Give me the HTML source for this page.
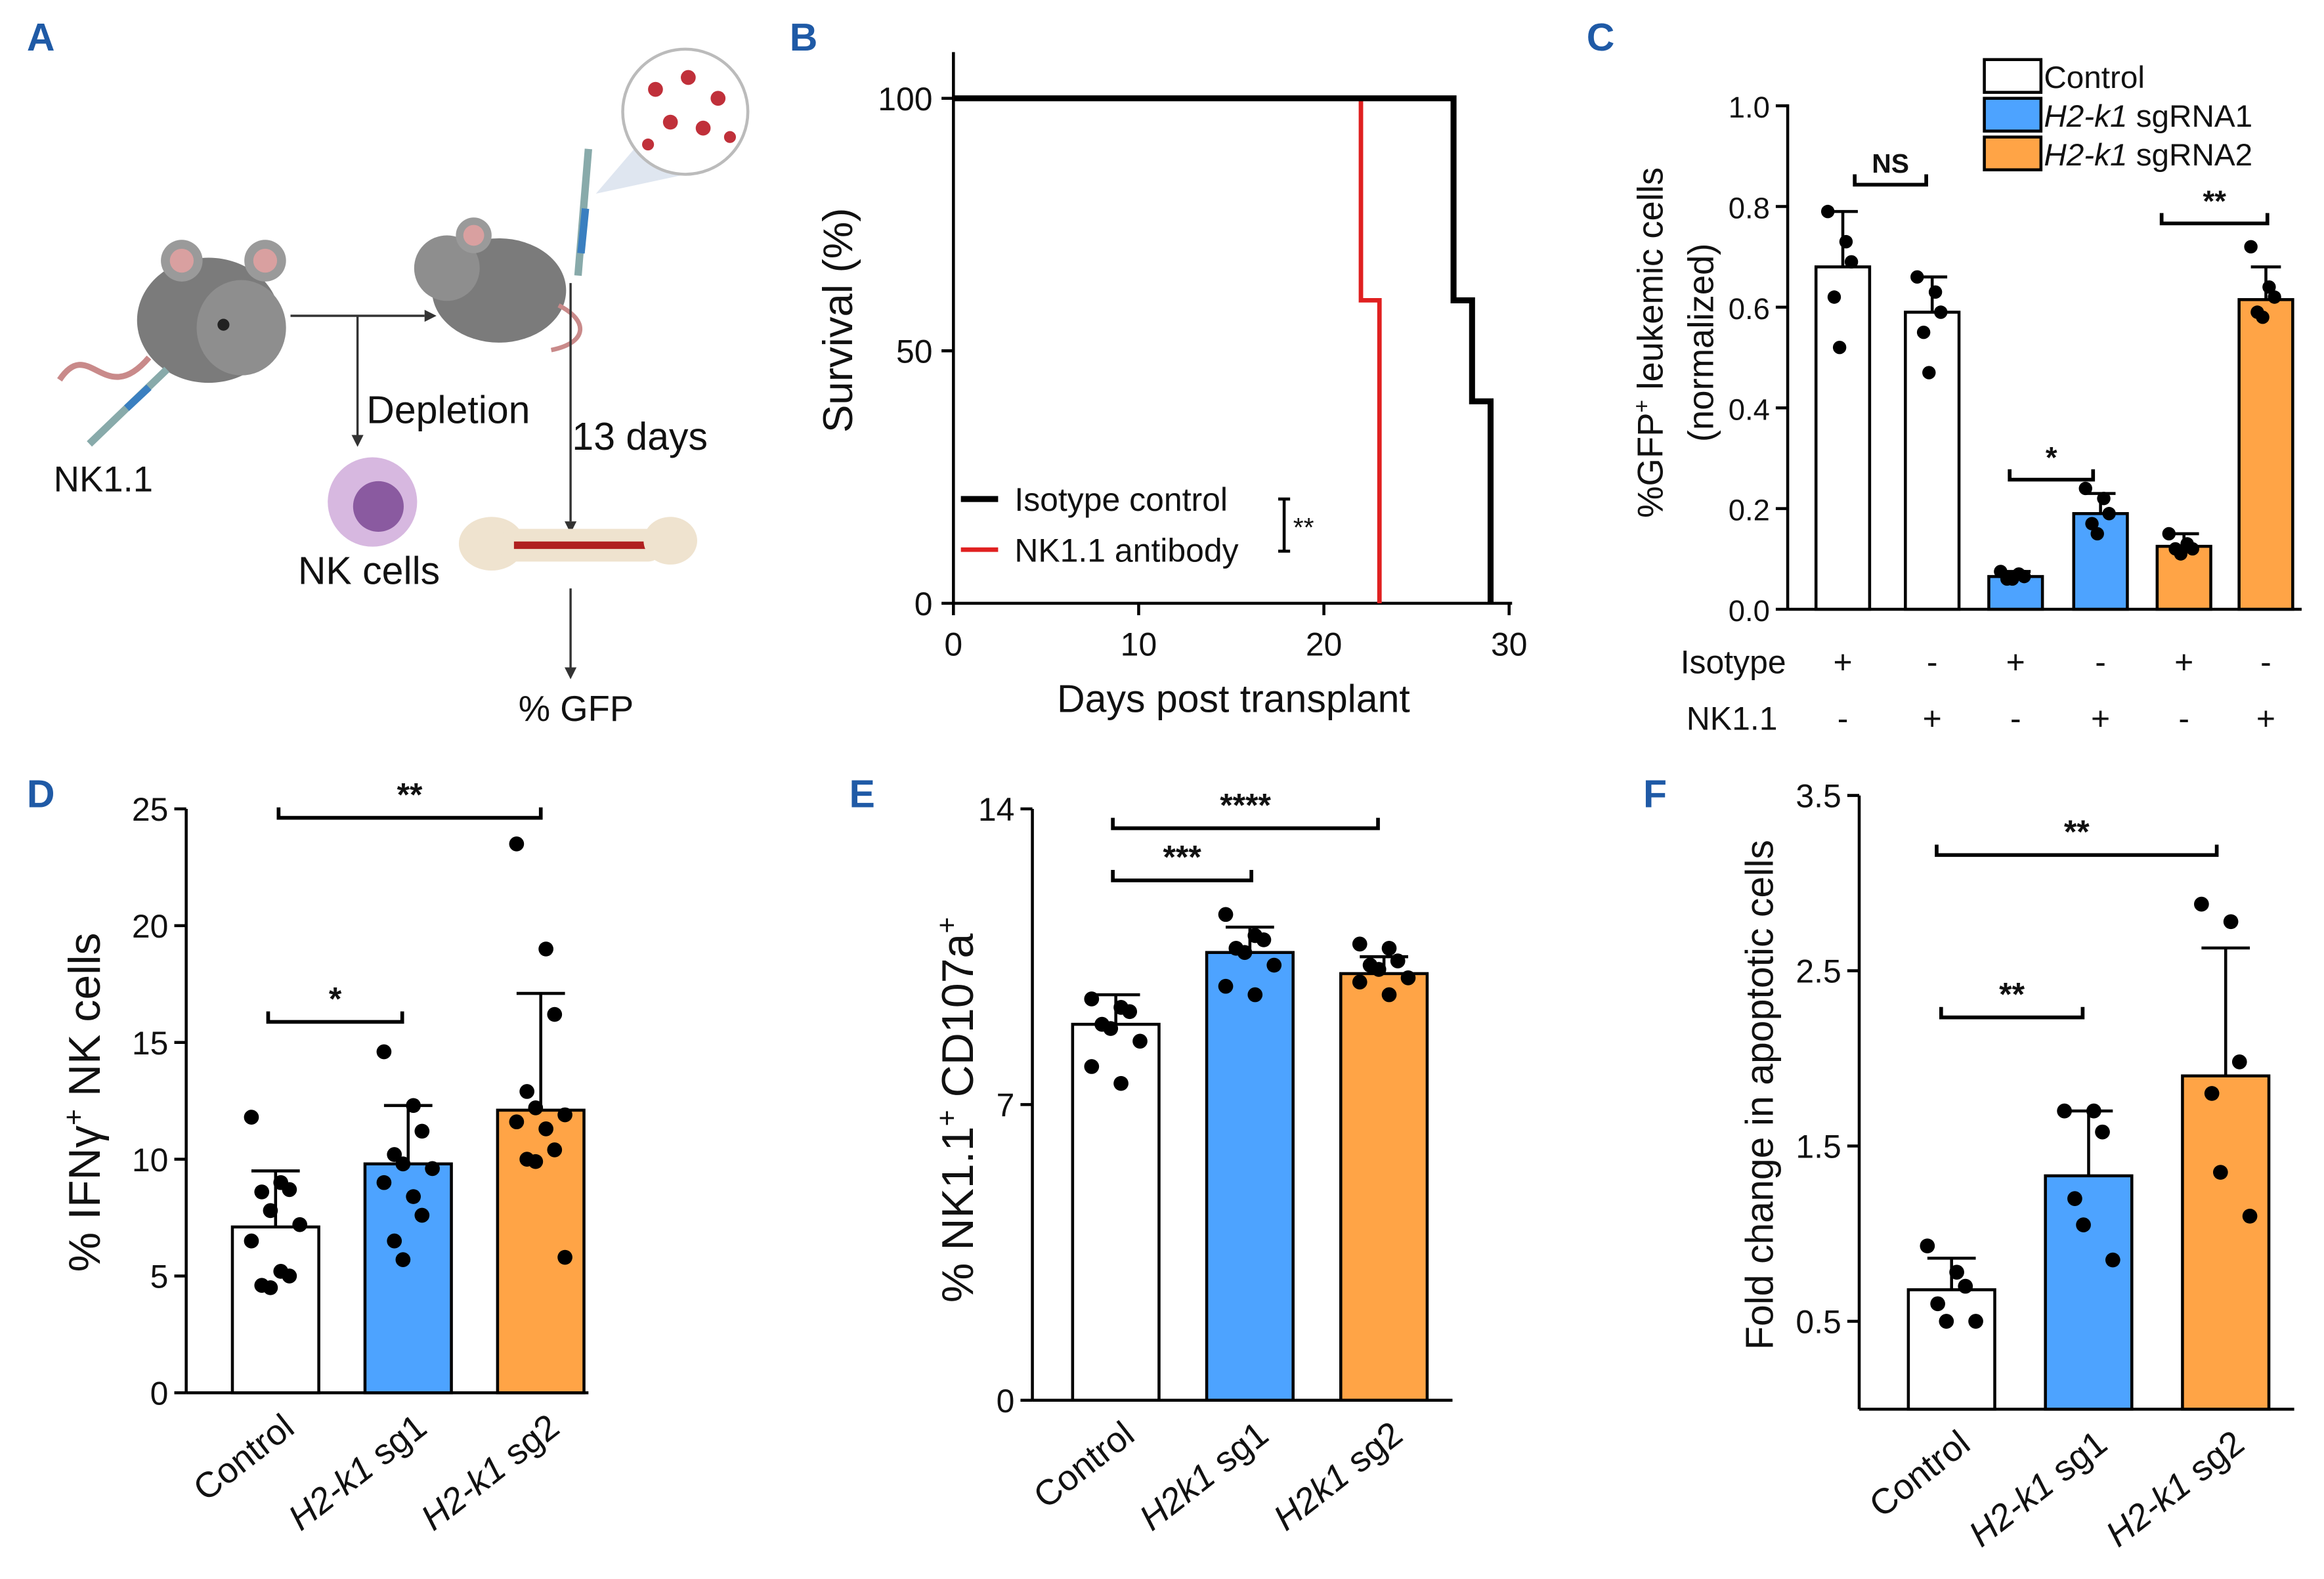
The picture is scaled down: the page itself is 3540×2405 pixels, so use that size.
<!DOCTYPE html>
<html><head><meta charset="utf-8">
<style>
html,body{margin:0;padding:0;background:#fff}
svg{display:block}
text{font-family:"Liberation Sans",Arial,sans-serif;fill:#111}
</style></head>
<body>
<svg id="fig" width="3540" height="2405" viewBox="0 0 1560 1060" preserveAspectRatio="none" xmlns="http://www.w3.org/2000/svg">
<rect width="1560" height="1060" fill="#fff"/>
<g font-weight="bold" font-size="26" fill="#1f5aa6">
<text x="18" y="34" style="fill:#1f5aa6">A</text>
<text x="530" y="34" style="fill:#1f5aa6">B</text>
<text x="1065" y="34" style="fill:#1f5aa6">C</text>
<text x="18" y="542" style="fill:#1f5aa6">D</text>
<text x="570" y="542" style="fill:#1f5aa6">E</text>
<text x="1103" y="542" style="fill:#1f5aa6">F</text>
</g>

<g id="panelA">
  <g>
    <path d="M40,255 C60,225 70,275 100,240" stroke="#c98a8a" stroke-width="4" fill="none"/>
    <ellipse cx="140" cy="215" rx="48" ry="42" fill="#7b7b7b"/>
    <ellipse cx="162" cy="220" rx="30" ry="32" fill="#8e8e8e"/>
    <circle cx="122" cy="175" r="14" fill="#9a9a9a"/><circle cx="122" cy="175" r="8" fill="#d9a0a0"/>
    <circle cx="178" cy="175" r="14" fill="#9a9a9a"/><circle cx="178" cy="175" r="8" fill="#d9a0a0"/>
    <circle cx="150" cy="218" r="4" fill="#222"/>
  </g>
  <line x1="60" y1="298" x2="112" y2="248" stroke="#8aa" stroke-width="5"/>
  <line x1="85" y1="274" x2="100" y2="260" stroke="#3a7fc0" stroke-width="5"/>
  <g>
    <ellipse cx="335" cy="195" rx="45" ry="35" fill="#7b7b7b"/>
    <circle cx="300" cy="180" r="22" fill="#8e8e8e"/>
    <circle cx="318" cy="158" r="12" fill="#9a9a9a"/><circle cx="318" cy="158" r="7" fill="#d9a0a0"/>
    <path d="M375,205 C395,215 395,230 370,235" stroke="#c98a8a" stroke-width="3" fill="none"/>
  </g>
  <line x1="195" y1="212" x2="285" y2="212" stroke="#333" stroke-width="1.5"/>
  <path d="M285,208 l8,4 l-8,4z" fill="#333"/>
  <line x1="240" y1="212" x2="240" y2="292" stroke="#333" stroke-width="1.5"/>
  <path d="M236,292 l4,8 l4,-8z" fill="#333"/>
  <line x1="383" y1="190" x2="383" y2="350" stroke="#333" stroke-width="1.5"/>
  <path d="M379,350 l4,8 l4,-8z" fill="#333"/>
  <line x1="383" y1="395" x2="383" y2="448" stroke="#333" stroke-width="1.5"/>
  <path d="M379,448 l4,8 l4,-8z" fill="#333"/>
  <line x1="395" y1="100" x2="388" y2="185" stroke="#8aa" stroke-width="5"/>
  <line x1="393" y1="140" x2="390" y2="170" stroke="#3a7fc0" stroke-width="5"/>
  <path d="M400,130 L430,95 L470,115 Z" fill="#dfe6f0"/>
  <circle cx="460" cy="75" r="42" fill="#fff" stroke="#bbb" stroke-width="2"/>
  <g fill="#c0303a">
    <circle cx="440" cy="60" r="5"/><circle cx="462" cy="52" r="5"/><circle cx="482" cy="66" r="5"/>
    <circle cx="450" cy="82" r="5"/><circle cx="472" cy="86" r="5"/><circle cx="435" cy="97" r="4"/><circle cx="490" cy="92" r="4"/>
  </g>
  <circle cx="250" cy="337" r="30" fill="#d7b8e0"/>
  <circle cx="254" cy="340" r="17" fill="#8a5aa0"/>
  <g>
    <ellipse cx="330" cy="365" rx="22" ry="18" fill="#efe3cf"/>
    <rect x="335" y="355" width="110" height="22" rx="10" fill="#efe3cf"/>
    <line x1="345" y1="366" x2="440" y2="366" stroke="#b02020" stroke-width="5"/>
    <ellipse cx="450" cy="363" rx="18" ry="16" fill="#efe3cf"/>
  </g>
  <text x="36" y="330" font-size="24">NK1.1</text>
  <text x="246" y="284" font-size="26">Depletion</text>
  <text x="384" y="302" font-size="26">13 days</text>
  <text x="200" y="392" font-size="26">NK cells</text>
  <text x="348" y="484" font-size="24">% GFP</text>
</g>

<g id="panelB"></g>
<g id="panelC"></g>
<g id="panelD"></g>
<g id="panelE"></g>
<g id="panelF"></g>
</svg>
<script>
const NS="http://www.w3.org/2000/svg";
function mk(p,tag,a,txt){const e=document.createElementNS(NS,tag);for(const k in a)e.setAttribute(k,a[k]);if(txt!==undefined)e.textContent=txt;p.appendChild(e);return e;}

const bTicksX=[0,10,20,30];
const bTicksY=[0,50,100];
const isoTimes=[0,27,27,28,28,29,29];
const isoSurv=[100,100,60,60,40,40,0];
const nkTimes=[0,22,22,23,23];
const nkSurv=[100,100,60,60,0];

const cVals=[0.68,0.59,0.065,0.19,0.125,0.615];
const cErr=[0.79,0.66,0.075,0.23,0.15,0.68];
const cPts=[[0.79,0.73,0.69,0.62,0.52],[0.66,0.63,0.59,0.55,0.47],[0.075,0.07,0.065,0.06,0.06],[0.24,0.22,0.19,0.17,0.15],[0.15,0.13,0.12,0.12,0.11],[0.72,0.64,0.62,0.59,0.58]];
const cIsotype=["+","-","+","-","+","-"];
const cNK=["-","+","-","+","-","+"];
const cTicks=[0,0.2,0.4,0.6,0.8,1.0];

const dCats=["Control","H2-k1 sg1","H2-k1 sg2"];
const dVals=[7.1,9.8,12.1];
const dErr=[9.5,12.3,17.1];
const dPts=[[11.8,9.0,8.7,8.6,7.8,7.2,6.5,5.2,5.0,4.6,4.5],[14.6,12.3,11.2,10.2,9.8,9.6,9.0,8.4,7.6,6.5,5.7],[23.5,19.0,16.2,12.9,12.2,11.9,11.6,11.3,10.4,10.0,9.9,5.8]];
const dTicks=[0,5,10,15,20,25];

const eCats=["Control","H2k1 sg1","H2k1 sg2"];
const eVals=[8.9,10.6,10.1];
const eErr=[9.6,11.2,10.5];
const ePts=[[9.5,9.3,9.2,8.9,8.8,8.5,7.9,7.5],[11.5,11.0,10.9,10.7,10.6,10.3,9.8,9.6],[10.8,10.7,10.4,10.3,10.2,10.0,9.9,9.6]];
const eTicks=[0,7,14];

const fCats=["Control","H2-k1 sg1","H2-k1 sg2"];
const fVals=[0.68,1.33,1.9];
const fErr=[0.86,1.7,2.63];
const fPts=[[0.93,0.78,0.7,0.6,0.5,0.5],[1.7,1.7,1.58,1.2,1.05,0.85],[2.88,2.78,1.98,1.8,1.35,1.1]];
const fTicks=[0.5,1.5,2.5,3.5];

const COL=["#ffffff","#4da3ff","#ffa446"];

(function(){
 const g=document.getElementById('panelB');
 const x=v=>640+v*(1013-640)/30, y=v=>405-v*(405-66)/100;
 let l=mk(g,'line',{x1:640,y1:35,x2:640,y2:406,stroke:'#000','stroke-width':2});
 
 l=mk(g,'line',{x1:639,y1:405,x2:1015,y2:405,stroke:'#000','stroke-width':2});
 
 bTicksX.forEach(t=>{mk(g,'line',{x1:x(t),y1:405,x2:x(t),y2:413,stroke:'#000','stroke-width':2});
  const tx=mk(g,'text',{x:x(t),y:440,'font-size':22,'text-anchor':'middle'},t);
  });
 bTicksY.forEach(t=>{mk(g,'line',{x1:632,y1:y(t),x2:640,y2:y(t),stroke:'#000','stroke-width':2});
  const tx=mk(g,'text',{x:626,y:y(t)+8,'font-size':22,'text-anchor':'end'},t);
  });
 let p=mk(g,'polyline',{points:nkTimes.map((t,i)=>x(t)+','+y(nkSurv[i])).join(' '),fill:'none',stroke:'#e02020','stroke-width':3});
 
 p=mk(g,'polyline',{points:isoTimes.map((t,i)=>x(t)+','+y(isoSurv[i])).join(' '),fill:'none',stroke:'#000','stroke-width':4});
 
 let t=mk(g,'text',{x:828,y:478,'font-size':26,'text-anchor':'middle'},'Days post transplant');
 
 t=mk(g,'text',{x:0,y:0,'font-size':28,'text-anchor':'middle',transform:'translate(572,215) rotate(-90)'},'Survival (%)');
 
 mk(g,'line',{x1:645,y1:335,x2:670,y2:335,stroke:'#000','stroke-width':4});
 t=mk(g,'text',{x:681,y:343,'font-size':22},'Isotype control');
 mk(g,'line',{x1:645,y1:369,x2:670,y2:369,stroke:'#e02020','stroke-width':3});
 t=mk(g,'text',{x:681,y:377,'font-size':22},'NK1.1 antibody');
 mk(g,'path',{d:'M858,335 h8 M862,335 v35 M858,370 h8',stroke:'#000','stroke-width':2,fill:'none'});
 mk(g,'text',{x:868,y:360,'font-size':18},'**');
})();

function bars(g,opt){
 const {x0,x1,yv,cats,vals,err,pts,ticks,cx,bw,prefix}=opt;
 let l=mk(g,'line',{x1:x0,y1:opt.ytop,x2:x0,y2:opt.ybot,stroke:'#000','stroke-width':2});
 
 l=mk(g,'line',{x1:x0,y1:opt.ybot,x2:x1,y2:opt.ybot,stroke:'#000','stroke-width':2});
 
 ticks.forEach(t=>{mk(g,'line',{x1:x0-8,y1:yv(t),x2:x0,y2:yv(t),stroke:'#000','stroke-width':2});
  const tx=mk(g,'text',{x:x0-12,y:yv(t)+8,'font-size':opt.tfs||22,'text-anchor':'end'},opt.fmt?opt.fmt(t):t);
  });
 vals.forEach((v,i)=>{
  const c=cx(i);
  mk(g,'line',{x1:c,y1:yv(err[i]),x2:c,y2:yv(v),stroke:'#000','stroke-width':2});
  mk(g,'line',{x1:c-bw*0.28,y1:yv(err[i]),x2:c+bw*0.28,y2:yv(err[i]),stroke:'#000','stroke-width':2});
  const r=mk(g,'rect',{x:c-bw/2,y:yv(v),width:bw,height:opt.ybot-yv(v),fill:opt.colors[i],stroke:'#000','stroke-width':2});
  
  pts[i].forEach((p,j)=>{
   const off=((j%3)-1)*bw*0.22+((j%2)?bw*0.06:-bw*0.06);
   const d=mk(g,'circle',{cx:c+off,cy:yv(p),r:opt.pr||5,fill:'#000'});
   
  });
 });
 if(cats){cats.forEach((s,i)=>{
  const c=cx(i);
  const parts=s.split(' ');
  const t=mk(g,'text',{x:0,y:0,'font-size':24,'text-anchor':'end',transform:`translate(${c+14},${opt.ybot+26}) rotate(-38)`});
  if(parts.length>1){mk(t,'tspan',{'font-style':'italic'},parts[0]+' ');mk(t,'tspan',{},parts[1]);}else t.textContent=s;
  
 });}
}
function sig(g,xa,xb,y,txt,fs){
 mk(g,'path',{d:`M${xa},${y-7} V${y} H${xb} V${y-7}`,stroke:'#000','stroke-width':2.5,fill:'none'});
 const t=mk(g,'text',{x:(xa+xb)/2,y:y-8,'font-size':fs||22,'font-weight':'bold','text-anchor':'middle'},txt);
 
}

(function(){
 const g=document.getElementById('panelC');
 const yv=v=>409-v*(409-71);
 const centers=[1237,1297,1353,1410,1466,1521];
 bars(g,{x0:1200,x1:1545,ytop:70,ybot:409,yv,vals:cVals,err:cErr,pts:cPts,ticks:cTicks,cx:i=>centers[i],bw:36,prefix:'c',colors:[COL[0],COL[0],COL[1],COL[1],COL[2],COL[2]],fmt:t=>t.toFixed(1),tfs:20,pr:4.5});
 sig(g,1245,1293,124,'NS',18);sig(g,1349,1405,322,'*',20);sig(g,1451,1522,150,'**',20);
 cIsotype.forEach((s,i)=>{const t=mk(g,'text',{x:centers[i],y:452,'font-size':22,'text-anchor':'middle'},s);});
 cNK.forEach((s,i)=>{const t=mk(g,'text',{x:centers[i],y:490,'font-size':22,'text-anchor':'middle'},s);});
 let t=mk(g,'text',{x:1128,y:452,'font-size':22},'Isotype');
 t=mk(g,'text',{x:1132,y:490,'font-size':22},'NK1.1');
 t=mk(g,'text',{x:0,y:0,'font-size':24,'text-anchor':'middle',transform:'translate(1116,230) rotate(-90)'});
 mk(t,'tspan',{},'%GFP');mk(t,'tspan',{dy:-9,'font-size':15},'+');mk(t,'tspan',{dy:9},' leukemic cells');
 
 t=mk(g,'text',{x:0,y:0,'font-size':24,'text-anchor':'middle',transform:'translate(1150,230) rotate(-90)'},'(normalized)');
 const leg=[['Control',COL[0],''],['H2-k1',COL[1],' sgRNA1'],['H2-k1',COL[2],' sgRNA2']];
 leg.forEach((L,i)=>{const yy=40+i*26;
  const r=mk(g,'rect',{x:1332,y:yy,width:38,height:22,fill:L[1],stroke:'#000','stroke-width':2});
  
  const tt=mk(g,'text',{x:1372,y:yy+19,'font-size':21});
  if(i==0)tt.textContent='Control';else{mk(tt,'tspan',{'font-style':'italic'},L[0]);mk(tt,'tspan',{},L[2]);}
  });
})();

(function(){
 const g=document.getElementById('panelD');
 const yv=v=>935-v*(935-543)/25;
 bars(g,{x0:125,x1:395,ytop:543,ybot:935,yv,cats:dCats,vals:dVals,err:dErr,pts:dPts,ticks:dTicks,cx:i=>185+i*89,bw:58,prefix:'d',colors:COL});
 sig(g,180,270,686,'*');sig(g,187,363,549,'**');
 const t=mk(g,'text',{x:0,y:0,'font-size':30,'text-anchor':'middle',transform:'translate(67,740) rotate(-90)'});
 mk(t,'tspan',{},'% IFNγ');mk(t,'tspan',{dy:-11,'font-size':19},'+');mk(t,'tspan',{dy:11},' NK cells');
 
})();

(function(){
 const g=document.getElementById('panelE');
 const yv=v=>940-v*(940-543)/14;
 bars(g,{x0:693,x1:975,ytop:543,ybot:940,yv,cats:eCats,vals:eVals,err:eErr,pts:ePts,ticks:eTicks,cx:i=>749+i*90,bw:58,prefix:'e',colors:COL});
 sig(g,747,840,591,'***');sig(g,747,925,556,'****');
 const t=mk(g,'text',{x:0,y:0,'font-size':30,'text-anchor':'middle',transform:'translate(653,745) rotate(-90)'});
 mk(t,'tspan',{},'% NK1.1');mk(t,'tspan',{dy:-11,'font-size':19},'+');mk(t,'tspan',{dy:11},' CD107a');mk(t,'tspan',{dy:-11,'font-size':19},'+');
 
})();

(function(){
 const g=document.getElementById('panelF');
 const yv=v=>887-(v-0.5)*(887-534)/3;
 bars(g,{x0:1248,x1:1540,ytop:534,ybot:946,yv,cats:fCats,vals:fVals,err:fErr,pts:fPts,ticks:fTicks,cx:i=>1310+i*92,bw:58,prefix:'f',colors:COL});
 sig(g,1303,1398,683,'**');sig(g,1300,1488,574,'**');
 const t=mk(g,'text',{x:0,y:0,'font-size':26,'text-anchor':'middle',transform:'translate(1190,735) rotate(-90)'},'Fold change in apoptotic cells');
 
})();
</script>
</body></html>
